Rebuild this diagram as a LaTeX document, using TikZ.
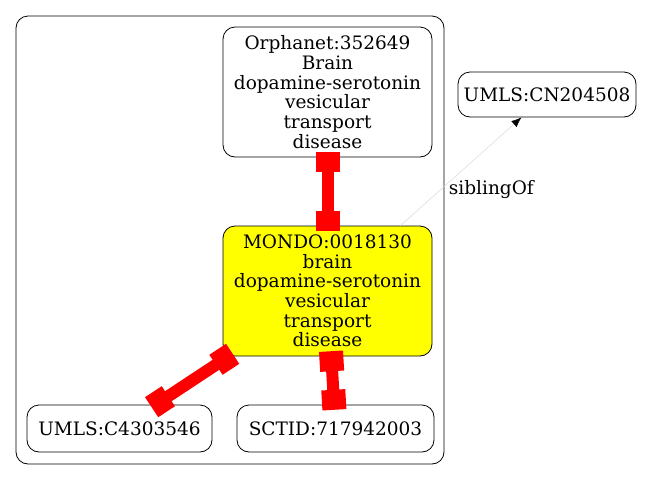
\documentclass[tikz,border=0pt]{standalone}
\usepackage{fontspec}
\setmainfont{DejaVu Serif}
\usetikzlibrary{arrows.meta}
\definecolor{nodeyellow}{RGB}{255,255,0}
\definecolor{edgered}{RGB}{255,0,0}
\begin{document}
\begin{tikzpicture}[x=1pt,y=-1pt,
  txt/.style={font=\fontsize{18.5}{19.7}\selectfont},
  box/.style={txt, draw=black, line width=0.8pt, rounded corners=12pt, align=center, inner sep=0pt},
  rededge/.style={draw=edgered, line width=12pt},
  endbox/.style={rectangle, fill=edgered, draw=none, minimum width=20pt, minimum height=24pt, inner sep=0pt, sloped},
  sib/.style={draw=black!15, line width=0.5pt, -{Latex[length=10pt,width=8pt,color=black]}}
]
\useasboundingbox (0,0) rectangle (654,480);
\draw[line width=0.8pt, rounded corners=12pt] (16,16) rectangle (444,464);
\node[box, minimum width=209pt, minimum height=130pt] (orph) at (327.5,92)
  {Orphanet:352649\\Brain\\dopamine-serotonin\\vesicular\\transport\\disease};
\node[box, fill=nodeyellow, minimum width=209pt, minimum height=130pt] (mondo) at (327.5,291)
  {MONDO:0018130\\brain\\dopamine-serotonin\\vesicular\\transport\\disease};
\node[box, minimum width=185pt, minimum height=47pt] (umls) at (119.5,428.5) {UMLS:C4303546};
\node[box, minimum width=197pt, minimum height=47pt] (sct) at (335.5,428.5) {SCTID:717942003};
\node[box, minimum width=178pt, minimum height=45pt] (cn) at (547,94.5) {UMLS:CN204508};
\draw[rededge] (orph) -- (mondo) node[endbox, pos=0.07] (b1) {} node[endbox, pos=0.93] (b2) {};
\draw[rededge] (mondo) -- (umls) node[endbox, pos=0.06] (b3) {} node[endbox, pos=0.94] (b4) {};
\draw[rededge] (mondo) -- (sct) node[endbox, pos=0.1] (b5) {} node[endbox, pos=0.9] (b6) {};
\draw[sib] (mondo) -- (cn) node[txt, pos=0.33, anchor=west, xshift=5pt, text=black] (lbl) {siblingOf};
\end{tikzpicture}
\end{document}
